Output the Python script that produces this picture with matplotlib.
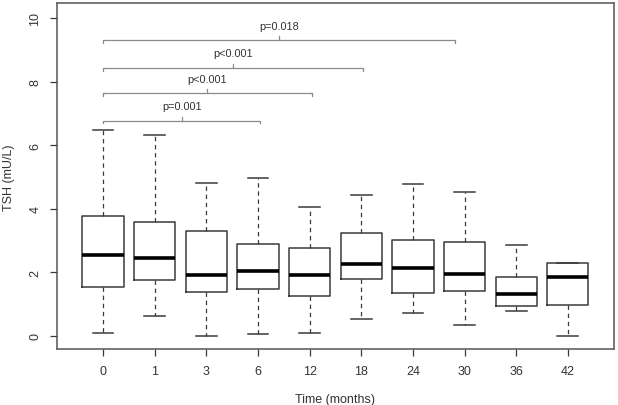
import matplotlib
matplotlib.use("Agg")
import matplotlib.pyplot as plt

# ---- data ----
time_labels = ["0", "1", "3", "6", "12", "18", "24", "30", "36", "42"]
whisker_low = [0.08, 0.62, 0.00, 0.05, 0.08, 0.54, 0.72, 0.34, 0.77, 0.00]
q1 =          [1.54, 1.74, 1.38, 1.46, 1.26, 1.78, 1.34, 1.40, 0.93, 0.95]
median =      [2.54, 2.45, 1.90, 2.03, 1.90, 2.26, 2.13, 1.94, 1.30, 1.85]
q3 =          [3.77, 3.59, 3.31, 2.90, 2.75, 3.24, 3.02, 2.94, 1.85, 2.28]
whisker_high = [6.48, 6.32, 4.80, 4.96, 4.05, 4.43, 4.77, 4.54, 2.87, 2.28]

bracket_start = [1.0, 1.0, 1.0, 1.0]
bracket_end = [4.04, 5.04, 6.03, 7.81]
bracket_level = [6.77, 7.63, 8.43, 9.30]
bracket_labels = ["p=0.001", "p<0.001", "p<0.001", "p=0.018"]

y_ticks = [0, 2, 4, 6, 8, 10]

# ---- figure ----
plt.rcParams['font.family'] = ['Liberation Sans', 'DejaVu Sans']
fig = plt.figure(figsize=(6.18, 4.06), dpi=100)
ax = fig.add_axes([0.0917, 0.1372, 0.9023, 0.8522])

line_col = "#3a3a3a"
stats = []
for i in range(len(time_labels)):
    stats.append(dict(med=median[i], q1=q1[i], q3=q3[i],
                      whislo=whisker_low[i], whishi=whisker_high[i],
                      fliers=[], label=time_labels[i]))

positions = list(range(1, len(time_labels) + 1))
ax.bxp(stats, positions=positions, widths=0.8, showfliers=False,
       boxprops=dict(color=line_col, linewidth=1.1),
       medianprops=dict(color="black", linewidth=2.6, solid_capstyle="butt"),
       whiskerprops=dict(color=line_col, linewidth=0.9, linestyle=(0, (3.5, 3))),
       capprops=dict(color=line_col, linewidth=1.1),
       capwidths=0.4, manage_ticks=False)

# brackets
br_col = "#8a8a8a"
for xs, xe, yl, lab in zip(bracket_start, bracket_end, bracket_level, bracket_labels):
    ax.plot([xs, xs, xe, xe], [yl - 0.08, yl, yl, yl - 0.08], color=br_col, lw=0.9)
    xm = (xs + xe) / 2
    ax.plot([xm, xm], [yl, yl + 0.13], color=br_col, lw=0.9)
    ax.text(xm, yl + 0.47, lab, ha="center", va="center", fontsize=7.8, color="#333333")

ax.set_xlim(0.1, 10.9)
ax.set_ylim(-0.43, 10.47)
ax.set_xticks(positions)
ax.set_xticklabels(time_labels)
ax.set_yticks(y_ticks)
ax.set_yticklabels([str(t) for t in y_ticks], rotation=90, va="center")

ax.tick_params(axis="both", length=5, width=0.9, colors="#3a3a3a",
               labelcolor="#333333", labelsize=9)
ax.tick_params(axis="x", pad=6)
ax.tick_params(axis="y", pad=6)
for sp in ax.spines.values():
    sp.set_color("#555555")
    sp.set_linewidth(1.1)

ax.set_xlabel("Time (months)", fontsize=9, color="#333333")
ax.set_ylabel("TSH (mU/L)", fontsize=9, color="#333333")
ax.xaxis.set_label_coords(0.5, -0.125)
ax.yaxis.set_label_coords(-0.074, 0.5)

fig.savefig("out.png", dpi=100)
